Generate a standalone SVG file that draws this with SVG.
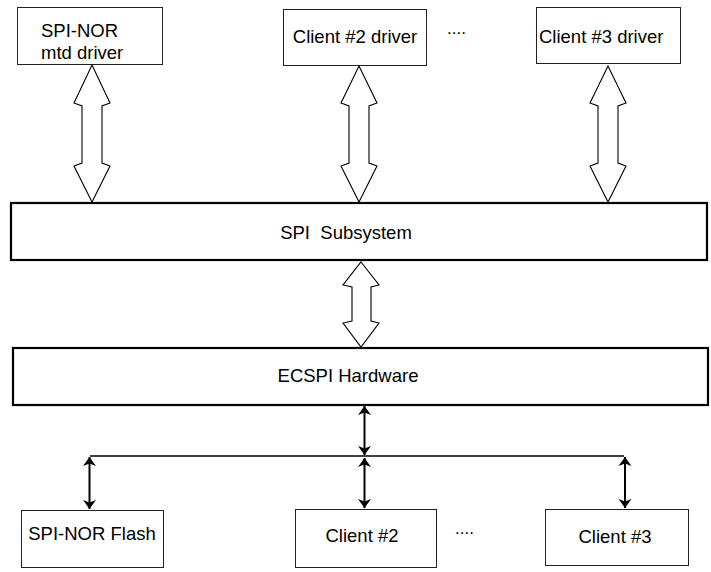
<svg xmlns="http://www.w3.org/2000/svg" width="711" height="572" viewBox="0 0 711 572">
<style>
.box{fill:#fff;stroke:#222;stroke-width:1}
.big{fill:#fff;stroke:#000;stroke-width:2.2}
.t{font-family:"Liberation Sans",Arial,sans-serif;font-size:18.5px;fill:#000}
.c{text-anchor:middle}
.fat{fill:#fff;stroke:#000;stroke-width:1.1;stroke-linejoin:miter}
.thin{fill:none;stroke:#000;stroke-width:2}
.bus{fill:none;stroke:#000;stroke-width:1.6}
</style>
<defs>
<marker id="ah" markerUnits="userSpaceOnUse" viewBox="-10 -7 11 14" refX="0" refY="0" markerWidth="11" markerHeight="14" orient="auto-start-reverse">
<path d="M0,0 L-9,-6.5 L-6.5,0 L-9,6.5 Z" fill="#000"/>
</marker>
</defs>
<rect width="711" height="572" fill="#fff"/>

<g id="spinor-driver">
<rect class="box" x="17.5" y="7.5" width="145" height="57"/>
<text class="t" x="41" y="37">SPI-NOR</text>
<text class="t" x="41" y="59">mtd driver</text>
</g>
<g id="client2-driver">
<rect class="box" x="283.5" y="9.5" width="143" height="56"/>
<text class="t c" x="355" y="43">Client #2 driver</text>
</g>
<g id="dots-top">
<text class="t" x="447" y="34" style="font-size:17px">....</text>
</g>
<g id="client3-driver">
<rect class="box" x="536.5" y="7.5" width="144" height="56"/>
<text class="t" x="539" y="43">Client #3 driver</text>
</g>

<g id="spi-subsystem">
<rect class="big" x="11" y="203" width="696" height="57"/>
<text class="t c" x="346" y="239" xml:space="preserve" style="white-space:pre">SPI  Subsystem</text>
</g>
<g id="ecspi-hardware">
<rect class="big" x="13" y="348" width="695" height="57"/>
<text class="t c" x="348" y="382">ECSPI Hardware</text>
</g>

<g id="spinor-flash">
<rect class="box" x="21.5" y="510.5" width="142" height="57"/>
<text class="t c" x="92" y="540">SPI-NOR Flash</text>
</g>
<g id="client2">
<rect class="box" x="295.5" y="509.5" width="141" height="58"/>
<text class="t c" x="362" y="542">Client #2</text>
</g>
<g id="dots-bottom">
<text class="t" x="455" y="534" style="font-size:17px">....</text>
</g>
<g id="client3">
<rect class="box" x="545.5" y="509.5" width="143" height="56"/>
<text class="t c" x="615" y="543">Client #3</text>
</g>

<g id="connectors">
<polygon class="fat" points="92,65 110,103 102,106 102,163 110,166 92,202 74,166 82,163 82,106 74,103"/>
<polygon class="fat" points="359,66 377,103 369,106 369,163 377,166 359,202 341,166 349,163 349,106 341,103"/>
<polygon class="fat" points="608,66 626,103 618,106 618,163 626,166 608,202 590,166 598,163 598,106 590,103"/>
<polygon class="fat" points="361,262 379,285 371,287 371,321 379,323 361,347 343,323 352,321 352,287 343,285"/>
<line class="thin" x1="364.5" y1="406" x2="364.5" y2="455" marker-start="url(#ah)" marker-end="url(#ah)"/>
<line class="bus" x1="90" y1="456" x2="624" y2="456"/>
<line class="thin" x1="89.5" y1="457" x2="89.5" y2="509" marker-start="url(#ah)" marker-end="url(#ah)"/>
<line class="thin" x1="364.5" y1="458" x2="364.5" y2="508" marker-start="url(#ah)" marker-end="url(#ah)"/>
<line class="thin" x1="625" y1="457" x2="625" y2="508" marker-start="url(#ah)" marker-end="url(#ah)"/>
</g>
</svg>
